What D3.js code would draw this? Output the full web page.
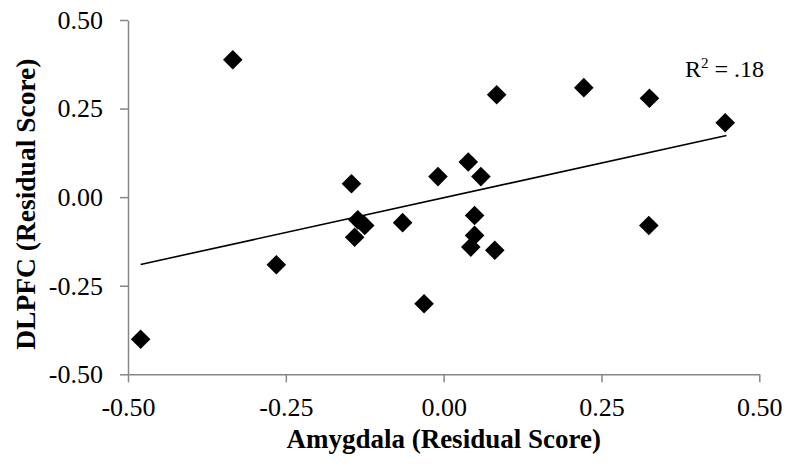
<!DOCTYPE html>
<html>
<head>
<meta charset="utf-8">
<script src="https://cdn.jsdelivr.net/npm/d3@7"></script>
<style>
  html, body { margin: 0; padding: 0; background: #fff; }
  svg { display: block; font-family: "Liberation Serif", "Times New Roman", serif; }
</style>
</head>
<body>
<svg id="chart" width="788" height="468"></svg>
<script>
// amygdala (x) and DLPFC (y) residual scores
const amygdala = [-0.48, -0.334, -0.265, -0.146, -0.136, -0.125, -0.141, -0.065, -0.031, -0.009,
                  0.039, 0.059, 0.084, 0.049, 0.049, 0.043, 0.081, 0.222, 0.326, 0.325, 0.446];
const dlpfc    = [-0.401, 0.388, -0.191, 0.038, -0.064, -0.080, -0.113, -0.072, -0.301, 0.058,
                  0.099, 0.058, 0.289, -0.052, -0.108, -0.141, -0.150, 0.309, 0.279, -0.080, 0.210];

// linear trendline end points as drawn
const trendX = [-0.48, 0.448];
const trendY = [-0.19, 0.174];

const xTicks = [-0.5, -0.25, 0, 0.25, 0.5];
const yTicks = [-0.5, -0.25, 0, 0.25, 0.5];
const rSquared = ".18";

const svg = d3.select("#chart");
const mLeft = 128, mRight = 759.3, mTop = 20, mBottom = 374.3;
const serif = "'Liberation Serif', 'Times New Roman', serif";

const x = d3.scaleLinear().domain([-0.5, 0.5]).range([mLeft, mRight]);
const y = d3.scaleLinear().domain([-0.5, 0.5]).range([mBottom, mTop]);
// plain hyphen for negatives, like the original
const fmt = d => d3.format(".2f")(d).replace("\u2212", "-");
const axisColor = "#868686";

// x axis
const gx = svg.append("g")
  .attr("transform", `translate(0,${mBottom})`)
  .call(d3.axisBottom(x).tickValues(xTicks).tickFormat(fmt).tickSize(8).tickPadding(15).tickSizeOuter(0));
// y axis
const gy = svg.append("g")
  .attr("transform", `translate(${mLeft},0)`)
  .call(d3.axisLeft(y).tickValues(yTicks).tickFormat(fmt).tickSize(8).tickPadding(17).tickSizeOuter(0));

[gx, gy].forEach(g => {
  g.attr("font-family", serif).attr("font-size", 26);
  g.select(".domain").attr("stroke", axisColor).attr("stroke-width", 1.5);
  g.selectAll(".tick line").attr("stroke", axisColor).attr("stroke-width", 1.5);
  g.selectAll(".tick text").attr("fill", "#000");
});
gx.selectAll(".tick text").attr("dy", "0.72em");

// trendline
svg.append("line")
  .attr("x1", x(trendX[0])).attr("y1", y(trendY[0]))
  .attr("x2", x(trendX[1])).attr("y2", y(trendY[1]))
  .attr("stroke", "#000")
  .attr("stroke-width", 1.6);

// diamond markers
const r = 9.8;
svg.append("g")
  .selectAll("path")
  .data(amygdala.map((a, i) => [a, dlpfc[i]]))
  .join("path")
  .attr("transform", d => `translate(${x(d[0])},${y(d[1])})`)
  .attr("d", `M0,${-r}L${r},0L0,${r}L${-r},0Z`)
  .attr("fill", "#000");

// R squared label
const rt = svg.append("text")
  .attr("x", 685).attr("y", 77)
  .attr("font-family", serif)
  .style("font-size", "24px")
  .attr("fill", "#000");
rt.append("tspan").text("R");
rt.append("tspan").attr("dy", -9).style("font-size", "15px").text("2");
rt.append("tspan").attr("dy", 9).text(" = " + rSquared);

// axis titles
svg.append("text")
  .attr("x", (mLeft + mRight) / 2).attr("y", 448)
  .attr("text-anchor", "middle")
  .attr("font-family", serif)
  .style("font-size", "27px").style("font-weight", "bold")
  .text("Amygdala (Residual Score)");

svg.append("text")
  .attr("transform", `translate(35,${(mTop + mBottom) / 2 + 7}) rotate(-90)`)
  .attr("text-anchor", "middle")
  .attr("font-family", serif)
  .style("font-size", "27.5px").style("font-weight", "bold")
  .text("DLPFC (Residual Score)");
</script>
</body>
</html>
